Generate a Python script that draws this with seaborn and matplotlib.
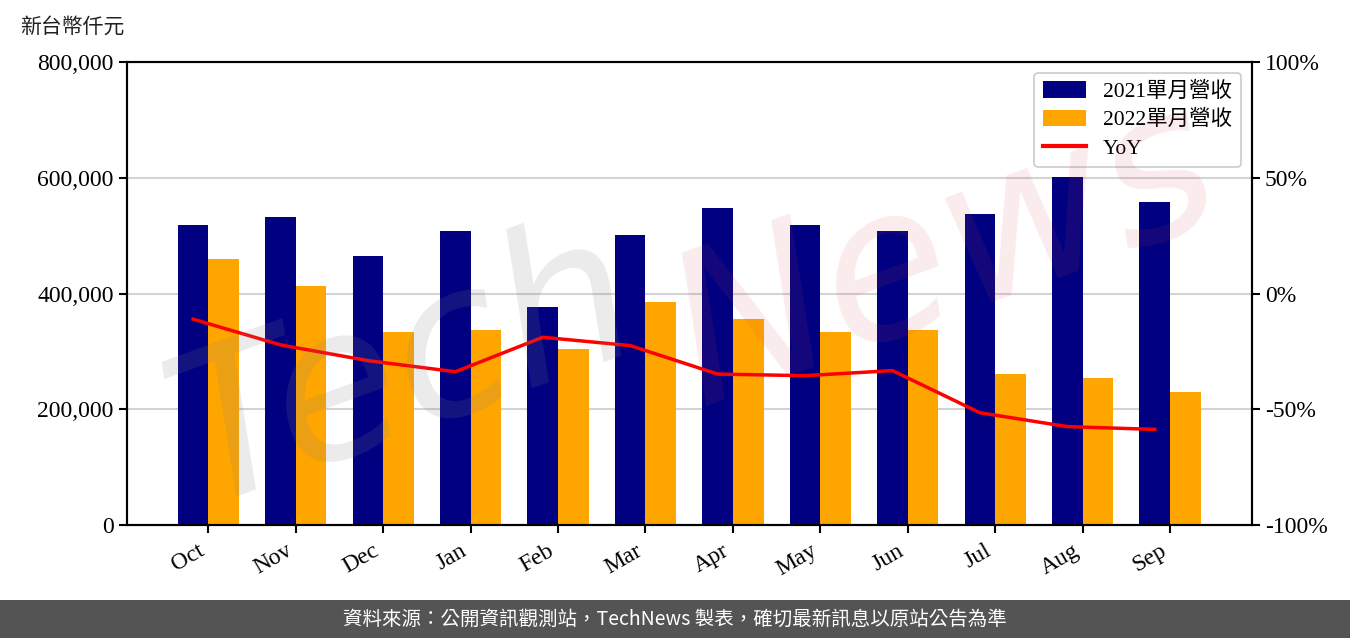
import numpy as np
import pandas as pd
import matplotlib
matplotlib.use("Agg")
import matplotlib.pyplot as plt
import seaborn as sns
from matplotlib.patches import Rectangle, Patch
from matplotlib.lines import Line2D
from matplotlib.ticker import FuncFormatter, FixedLocator

# ---------------- data ----------------
months = ["Oct", "Nov", "Dec", "Jan", "Feb", "Mar", "Apr", "May", "Jun", "Jul", "Aug", "Sep"]
rev_2021 = [518000, 532000, 465000, 508000, 377000, 501000, 548000, 518000, 508000, 537000, 601000, 558000]
rev_2022 = [460000, 413000, 334000, 337000, 304000, 385000, 356000, 334000, 337000, 261000, 254000, 230000]
yoy = [-11.1, -22.2, -29.0, -33.8, -18.9, -22.5, -34.8, -35.5, -33.3, -51.5, -57.5, -58.7]
series_names = ["2021單月營收", "2022單月營收"]
line_name = "YoY"
rev_ticks = [0, 200000, 400000, 600000, 800000]
yoy_ticks = [-100, -50, 0, 50, 100]
unit_label = "新台幣仟元"
footer_text = "資料來源：公開資訊觀測站，TechNews 製表，確切最新訊息以原站公告為準"

colors = ["#000080", "#FFA500"]
line_color = "#FF0000"

plt.rcParams['font.family'] = ['Liberation Serif', 'Noto Sans CJK TC', 'DejaVu Sans']

df = pd.DataFrame({
    "month": months * 2,
    "revenue": rev_2021 + rev_2022,
    "series": [series_names[0]] * len(months) + [series_names[1]] * len(months),
})

W, H = 1350, 638
fig = plt.figure(figsize=(W / 100, H / 100), dpi=100)
ax = fig.add_axes([126.7 / W, 113 / H, 1125 / W, 463 / H])

sns.barplot(data=df, x="month", y="revenue", hue="series", order=months,
            hue_order=series_names, palette=colors, width=0.7, saturation=1,
            linewidth=0, legend=False, ax=ax, zorder=2)

ax.set_axisbelow(True)
ax.set_ylim(0, 800000)
ax.yaxis.set_major_locator(FixedLocator(rev_ticks))
ax.yaxis.set_major_formatter(FuncFormatter(lambda v, p: f"{v:,.0f}"))
ax.yaxis.grid(True, color="#d3d3d3", linewidth=1.5)
ax.xaxis.grid(False)
ax.set_xlabel("")
ax.set_ylabel("")

ax2 = ax.twinx()
xline = np.arange(len(months)) - 0.175
sns.lineplot(x=xline, y=yoy, ax=ax2, color=line_color, linewidth=2.5, zorder=3)
ax2.set_ylim(-100, 100)
ax2.yaxis.set_major_locator(FixedLocator(yoy_ticks))
ax2.yaxis.set_major_formatter(FuncFormatter(lambda v, p: f"{v:.0f}%"))
ax2.set_ylabel("")

ax.set_xlim(-0.935, len(months) - 1 + 0.935)

for a in (ax, ax2):
    for s in a.spines.values():
        s.set_color("black")
        s.set_linewidth(1.5)
    a.tick_params(axis="both", which="major", length=6, width=1.5,
                  labelsize=17, colors="black", direction="out")

ax.set_xticks(range(len(months)))
ax.set_xticklabels(months, rotation=30, ha="right", fontsize=17)
ax.tick_params(axis="x", pad=5)

handles = [Patch(facecolor=colors[0], label=series_names[0]),
           Patch(facecolor=colors[1], label=series_names[1]),
           Line2D([0], [0], color=line_color, linewidth=3, label=line_name)]
leg = ax2.legend(handles=handles, loc="upper right", fontsize=15.5,
                 frameon=True, fancybox=True, framealpha=1, edgecolor="#cccccc",
                 borderaxespad=0.5, handlelength=2.0, handleheight=0.8,
                 labelspacing=0.35, borderpad=0.4)
leg.get_frame().set_linewidth(1.2)

# unit label
fig.text(20 / W, 1 - 27 / H, unit_label, fontsize=15, va="center", ha="left",
         family=["Noto Sans CJK TC", "DejaVu Sans"], color="#222222")

# watermark
fig.text(0.30, 0.42, "Tech", fontsize=150, rotation=20, color="#808080",
         alpha=0.16, ha="center", va="center", style="italic",
         family=["DejaVu Sans"], zorder=10)
fig.text(0.70, 0.60, "News", fontsize=150, rotation=20, color="#d04050",
         alpha=0.10, ha="center", va="center", style="italic",
         family=["DejaVu Sans"], zorder=10)

# footer band
fig.patches.append(Rectangle((0, 0), 1, 38 / H, transform=fig.transFigure,
                             facecolor="#545454", edgecolor="none", zorder=0))
fig.text(0.5, 19 / H, footer_text, color="white", fontsize=14, ha="center",
         va="center", family=["Noto Sans CJK TC", "DejaVu Sans"])

fig.savefig("out.png", dpi=100)
